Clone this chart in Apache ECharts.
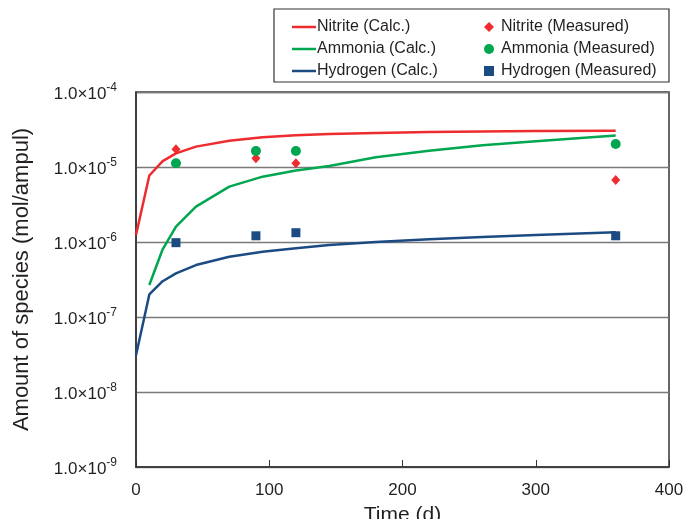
<!DOCTYPE html>
<html>
<head>
<meta charset="utf-8">
<script src="https://cdn.jsdelivr.net/npm/echarts@6/dist/echarts.min.js"></script>
<style>
  html, body { margin: 0; padding: 0; background: #fff; }
  #chart { width: 685px; height: 519px; }
</style>
</head>
<body>
<div id="chart"></div>
<script>
// calculated curves
var calcTime = [0, 10, 20, 30, 45, 70, 95, 120, 145, 180, 220, 260, 300, 360];
var nitriteCalc = [1.24e-6, 7.7e-6, 1.2e-5, 1.52e-5, 1.87e-5, 2.24e-5, 2.49e-5, 2.65e-5, 2.75e-5, 2.85e-5, 2.92e-5, 2.98e-5, 3.02e-5, 3.05e-5];
var ammoniaCalc = [null, 2.67e-7, 8.0e-7, 1.6e-6, 2.96e-6, 5.47e-6, 7.43e-6, 9.0e-6, 1.03e-5, 1.35e-5, 1.65e-5, 1.95e-5, 2.2e-5, 2.64e-5];
var hydrogenCalc = [3.1e-8, 2.0e-7, 3.0e-7, 3.82e-7, 4.93e-7, 6.37e-7, 7.43e-7, 8.24e-7, 9.1e-7, 1.0e-6, 1.09e-6, 1.17e-6, 1.24e-6, 1.35e-6];

// measured points
var measTime = [30, 90, 120, 360];
var nitriteMeas = [1.72e-5, 1.31e-5, 1.12e-5, 6.7e-6];
var ammoniaMeas = [1.12e-5, 1.63e-5, 1.63e-5, 2.03e-5];
var hydrogenMeas = [9.8e-7, 1.21e-6, 1.33e-6, 1.21e-6];

var xTicks = [0, 100, 200, 300, 400];

var RED = '#ee2b2e', GREEN = '#00a650', BLUE = '#1c4a83', INK = '#231f20';
var FONT = 'Liberation Sans, Arial, sans-serif';

function pairs(xs, ys) {
    return xs.map(function (x, i) { return [x, ys[i]]; })
             .filter(function (p) { return p[1] != null; });
}

var chart = echarts.init(document.getElementById('chart'));

chart.setOption({
    animation: false,
    backgroundColor: '#fff',
    textStyle: { fontFamily: FONT, color: INK },
    grid: {
        left: 136, right: 16, top: 92, bottom: 52,
        containLabel: false, outerBoundsMode: 'none',
        show: true, borderColor: '#333', borderWidth: 1.5, backgroundColor: 'transparent'
    },
    graphic: [{
        type: 'rect',
        shape: { x: 274, y: 9, width: 395, height: 73 },
        style: { fill: 'none', stroke: '#333', lineWidth: 1.2 }
    }],
    legend: [{
        left: 287, top: 14, orient: 'vertical',
        icon: 'rect', itemWidth: 24, itemHeight: 2.5, itemGap: 6,
        textStyle: { fontSize: 16, color: INK, fontFamily: FONT, padding: [0, 0, 0, -4], lineHeight: 16 },
        data: ['Nitrite (Calc.)', 'Ammonia (Calc.)', 'Hydrogen (Calc.)']
    }, {
        left: 479, top: 14, orient: 'vertical',
        itemWidth: 10, itemHeight: 10, itemGap: 6,
        textStyle: { fontSize: 16, color: INK, fontFamily: FONT, padding: [0, 0, 0, 2], lineHeight: 16 },
        data: ['Nitrite (Measured)', 'Ammonia (Measured)', 'Hydrogen (Measured)']
    }],
    xAxis: {
        type: 'value', min: xTicks[0], max: xTicks[xTicks.length - 1], interval: 100,
        name: 'Time (d)', nameLocation: 'middle', nameGap: 38,
        nameTextStyle: { fontSize: 21, color: INK, fontFamily: FONT },
        axisLine: { lineStyle: { color: '#333', width: 1.5 } },
        axisTick: { inside: true, length: 7, lineStyle: { color: '#333' } },
        axisLabel: { fontSize: 17, color: INK, margin: 15 },
        splitLine: { show: false }
    },
    yAxis: {
        type: 'log', logBase: 10, min: 1e-9, max: 1e-4,
        name: 'Amount of species (mol/ampul)', nameLocation: 'middle', nameGap: 103,
        nameTextStyle: { fontSize: 22, color: INK, fontFamily: FONT },
        axisLine: { lineStyle: { color: '#333', width: 1.5 } },
        axisTick: { show: false },
        axisLabel: {
            margin: 19,
            formatter: function (v) {
                var e = Math.round(Math.log10(v));
                return '{b|1.0×10}{s|' + e + '}';
            },
            rich: {
                b: { fontSize: 17, lineHeight: 21, color: INK, fontFamily: FONT, verticalAlign: 'bottom' },
                s: { fontSize: 12, lineHeight: 12, color: INK, fontFamily: FONT, verticalAlign: 'top' }
            }
        },
        splitLine: { show: true, lineStyle: { color: '#7a7a7a', width: 1.3 } }
    },
    series: [{
        name: 'Nitrite (Calc.)', type: 'line', symbol: 'none',
        lineStyle: { color: RED, width: 2.5 }, itemStyle: { color: RED },
        data: pairs(calcTime, nitriteCalc), z: 3
    }, {
        name: 'Ammonia (Calc.)', type: 'line', symbol: 'none',
        lineStyle: { color: GREEN, width: 2.5 }, itemStyle: { color: GREEN },
        data: pairs(calcTime, ammoniaCalc), z: 3
    }, {
        name: 'Hydrogen (Calc.)', type: 'line', symbol: 'none',
        lineStyle: { color: BLUE, width: 2.5 }, itemStyle: { color: BLUE },
        data: pairs(calcTime, hydrogenCalc), z: 3
    }, {
        name: 'Nitrite (Measured)', type: 'scatter', symbol: 'diamond', symbolSize: [9, 10],
        itemStyle: { color: RED, opacity: 1 },
        data: pairs(measTime, nitriteMeas), z: 4
    }, {
        name: 'Ammonia (Measured)', type: 'scatter', symbol: 'circle', symbolSize: 10,
        itemStyle: { color: GREEN, opacity: 1 },
        data: pairs(measTime, ammoniaMeas), z: 4
    }, {
        name: 'Hydrogen (Measured)', type: 'scatter', symbol: 'rect', symbolSize: 9,
        itemStyle: { color: BLUE, opacity: 1 },
        data: pairs(measTime, hydrogenMeas), z: 4
    }]
});
</script>
</body>
</html>
